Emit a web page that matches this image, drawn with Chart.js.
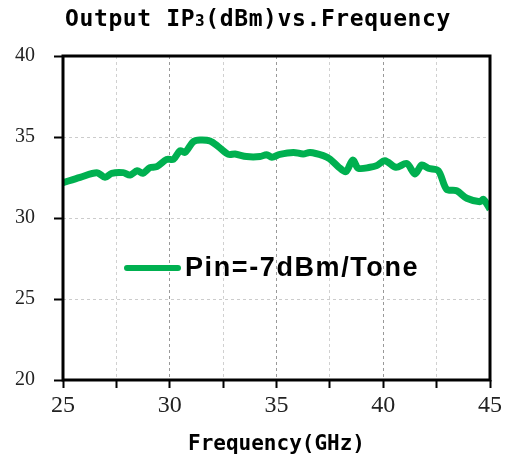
<!DOCTYPE html>
<html>
<head>
<meta charset="utf-8">
<script src="https://cdn.jsdelivr.net/npm/chart.js@4.4.0/dist/chart.umd.min.js"></script>
<style>
  html, body { margin: 0; padding: 0; background: #fff; }
  #wrap { position: relative; width: 509px; height: 461px; }
  #title {
    position: absolute; left: 0; top: 5px; width: 516px; text-align: center;
    font-family: "DejaVu Sans Mono", monospace; font-weight: bold; font-size: 23px;
    letter-spacing: 0.6px; color: #000;
  }
  #title span { font-size: 16px; }
</style>
</head>
<body>
<div id="wrap">
  <canvas id="ip3Chart" width="509" height="461"></canvas>
  <div id="title">Output IP<span>3</span>(dBm)vs.Frequency</div>
</div>
<script>
// Output IP3 vs frequency, Pin = -7 dBm/tone
const freqs = [25, 25.8, 26.58, 26.97, 27.28, 27.82, 28.14, 28.48, 28.73, 29.07, 29.39, 29.86,
    30.17, 30.48, 30.71, 31.1, 31.42, 31.89, 32.28, 32.75, 33.06, 33.6, 34.23, 34.54, 34.78,
    35.16, 35.79, 36.25, 36.57, 37.19, 37.5, 37.89, 38.25, 38.57, 38.83, 39.38, 39.69, 40.08,
    40.6, 41.1, 41.49, 41.8, 42.11, 42.58, 42.97, 43.44, 43.91, 44.53, 44.69, 45];
const ip3 = [32.18, 32.51, 32.8, 32.51, 32.76, 32.8, 32.65, 32.92, 32.76, 33.11, 33.17, 33.62,
    33.62, 34.15, 34.05, 34.71, 34.81, 34.75, 34.4, 33.93, 33.95, 33.79, 33.79, 33.91, 33.75,
    33.93, 34.05, 33.95, 34.05, 33.85, 33.64, 33.17, 32.86, 33.58, 33.07, 33.13, 33.23, 33.54,
    33.13, 33.36, 32.72, 33.27, 33.07, 32.92, 31.77, 31.68, 31.22, 31.01, 31.15, 30.54];
const xTicks = [25, 30, 35, 40, 45];
const yTicks = [20, 25, 30, 35, 40];
const seriesLabel = 'Pin=-7dBm/Tone';

const lineColor = '#00b050';

// frame around the plot area
const framePlugin = {
    id: 'frame',
    afterDraw(chart) {
        const { ctx, chartArea: a } = chart;
        ctx.save();
        ctx.strokeStyle = '#000';
        ctx.lineWidth = 3;
        ctx.strokeRect(a.left, a.top, a.right - a.left, a.bottom - a.top);
        ctx.restore();
    }
};

// legend drawn inside the plot area
const innerLegend = {
    id: 'innerLegend',
    afterDatasetsDraw(chart) {
        const ctx = chart.ctx;
        const ds = chart.data.datasets[0];
        ctx.save();
        ctx.strokeStyle = ds.borderColor;
        ctx.lineWidth = 6;
        ctx.lineCap = 'round';
        ctx.beginPath();
        ctx.moveTo(127, 268);
        ctx.lineTo(178, 268);
        ctx.stroke();
        ctx.fillStyle = '#000';
        ctx.font = 'bold 27px "Liberation Sans", Arial, sans-serif';
        ctx.letterSpacing = '1.6px';
        ctx.textBaseline = 'middle';
        ctx.fillText(ds.label, 185, 269);
        ctx.restore();
    }
};

new Chart(document.getElementById('ip3Chart').getContext('2d'), {
    type: 'line',
    data: {
        datasets: [{
            label: seriesLabel,
            data: freqs.map((f, i) => ({ x: f, y: ip3[i] })),
            borderColor: lineColor,
            borderWidth: 7,
            pointRadius: 0,
            tension: 0.3,
            fill: false
        }]
    },
    options: {
        responsive: false,
        animation: false,
        layout: { padding: { top: 56, right: 19, left: 0, bottom: 0 } },
        plugins: {
            legend: { display: false },
            tooltip: { enabled: false }
        },
        scales: {
            x: {
                type: 'linear',
                min: 25,
                max: 45,
                afterFit(scale) { scale.height = 81; },
                ticks: {
                    stepSize: 2.5,
                    autoSkip: false,
                    maxRotation: 0,
                    padding: 3,
                    color: '#222',
                    font: { family: '"Liberation Serif", "Times New Roman", serif', size: 24 },
                    callback: v => xTicks.includes(v) ? String(v) : ''
                },
                grid: {
                    color: ctx => (ctx.tick && ctx.tick.value % 5 === 0) ? '#999' : '#d0d0d0',
                    lineWidth: 1,
                    tickColor: '#000',
                    tickWidth: 2,
                    tickLength: 8
                },
                border: { display: false, dash: [3, 3] },
                title: {
                    display: true,
                    text: 'Frequency(GHz)',
                    color: '#000',
                    padding: { top: 0, bottom: 4 },
                    font: { family: '"DejaVu Sans Mono", monospace', weight: 'bold', size: 21 }
                }
            },
            y: {
                min: 20,
                max: 40,
                afterFit(scale) { scale.width = 63; },
                afterBuildTicks(scale) { scale.ticks = yTicks.map(v => ({ value: v })); },
                ticks: {
                    padding: 19,
                    color: '#222',
                    font: { family: '"Liberation Serif", "Times New Roman", serif', size: 20 }
                },
                grid: {
                    color: '#cccccc',
                    lineWidth: 1,
                    tickColor: '#000',
                    tickWidth: 2,
                    tickLength: 9
                },
                border: { display: false, dash: [3, 3] }
            }
        }
    },
    plugins: [framePlugin, innerLegend]
});
</script>
</body>
</html>
